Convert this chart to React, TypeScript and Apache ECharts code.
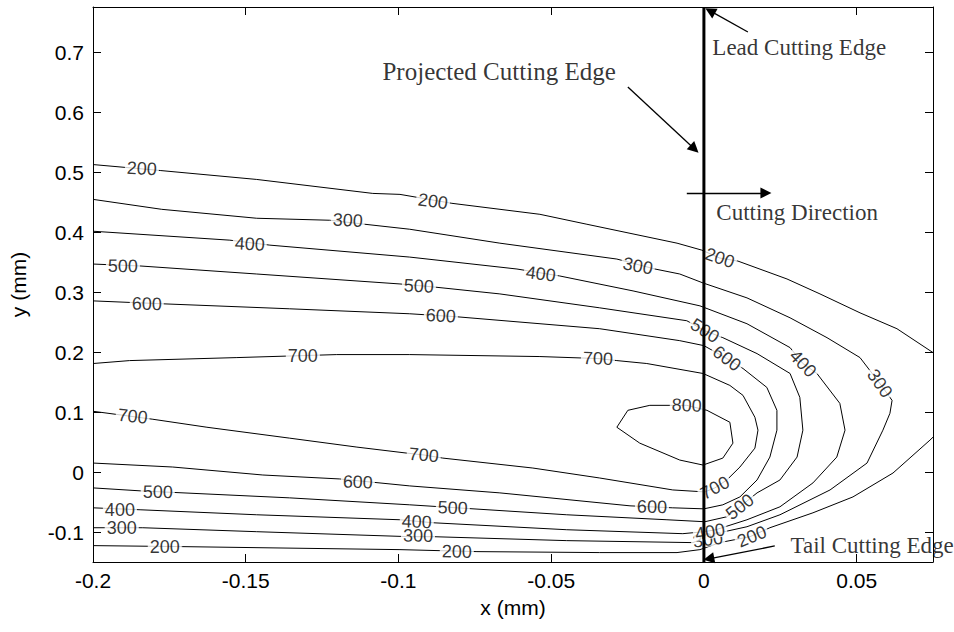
import React, { useEffect, useRef } from "react";
import * as echarts from "echarts";

// Axis extents and tick labels
const xRange = [-0.2, 0.075];
const yRange = [-0.15, 0.775];
const xTicks = [-0.2, -0.15, -0.1, -0.05, 0, 0.05];
const yTicks = [-0.1, 0, 0.1, 0.2, 0.3, 0.4, 0.5, 0.6, 0.7];

// Contour lines (x mm, y mm)
const contour200a = [
  [-0.2, 0.5124], [-0.178, 0.5025], [-0.1464, 0.4876], [-0.1084, 0.4643], [-0.0995, 0.4627],
  [-0.0825, 0.4478], [-0.0537, 0.4295], [-0.0383, 0.4129], [-0.0088, 0.3814], [-0.0007, 0.3698],
  [0.0052, 0.3566], [0.0111, 0.3516], [0.0272, 0.3217], [0.038, 0.2968], [0.0511, 0.2653],
  [0.0632, 0.2388], [0.075, 0.199],
];
const contour200b = [
  [-0.2, -0.1227], [-0.1706, -0.1244], [-0.0995, -0.1294], [-0.0743, -0.1327], [-0.0341, -0.1343],
  [-0.0088, -0.1343], [-0.0013, -0.1294], [0.0052, -0.1177], [0.0151, -0.1078], [0.0216, -0.0929],
  [0.0357, -0.068], [0.0488, -0.0415], [0.0619, -0.0017], [0.074, 0.0531], [0.075, 0.058],
];
const contour300 = [
  [-0.2, 0.4544], [-0.1775, 0.4378], [-0.1464, 0.4229], [-0.1225, 0.4196], [-0.111, 0.4129],
  [-0.0963, 0.4046], [-0.0668, 0.3814], [-0.0285, 0.3549], [-0.016, 0.3383], [-0.0079, 0.33],
  [-0.0003, 0.3151], [0.0141, 0.2902], [0.0282, 0.257], [0.0403, 0.2239], [0.0511, 0.1907],
  [0.0576, 0.1476], [0.0616, 0.1194], [0.0609, 0.0978], [0.0586, 0.0697], [0.0534, 0.0149],
  [0.0413, -0.0299], [0.0249, -0.0713], [0.0141, -0.0912], [0.0052, -0.1012], [0, -0.1095],
  [-0.0036, -0.1177], [-0.0449, -0.1144], [-0.0887, -0.1078], [-0.0963, -0.1078],
  [-0.1464, -0.0995], [-0.1837, -0.0929], [-0.2, -0.0929],
];
const contour400 = [
  [-0.2, 0.4013], [-0.1552, 0.3864], [-0.1421, 0.3781], [-0.0963, 0.3582], [-0.0612, 0.3383],
  [-0.0472, 0.3267], [-0.0232, 0.3018], [-0.0013, 0.2769], [0.0141, 0.2471], [0.0282, 0.2073],
  [0.0324, 0.1808], [0.037, 0.1642], [0.0445, 0.1144], [0.0462, 0.0697], [0.0435, 0.0249],
  [0.0357, -0.0182], [0.0249, -0.058], [0.0141, -0.0796], [0.0039, -0.0962], [0, -0.0995],
  [-0.0069, -0.1028], [-0.0449, -0.0962], [-0.0887, -0.0846], [-0.0995, -0.0796],
  [-0.1464, -0.0713], [-0.1843, -0.063], [-0.2, -0.0597],
];
const contour500 = [
  [-0.2, 0.3466], [-0.1843, 0.3433], [-0.1464, 0.33], [-0.0995, 0.3134], [-0.0887, 0.3085],
  [-0.0668, 0.2968], [-0.0341, 0.2736], [-0.0056, 0.2521], [0.0003, 0.2355], [0.0062, 0.2239],
  [0.0174, 0.1973], [0.0282, 0.1642], [0.0314, 0.1244], [0.0324, 0.0697], [0.0305, 0.0249],
  [0.0249, -0.0133], [0.0174, -0.0348], [0.0118, -0.058], [0.0075, -0.0746], [0.0003, -0.0829],
  [-0.0121, -0.0796], [-0.0449, -0.0713], [-0.0963, -0.0547], [-0.1356, -0.0431],
  [-0.1843, -0.0315], [-0.2, -0.0265],
];
const contour600 = [
  [-0.2, 0.2852], [-0.1771, 0.2803], [-0.1356, 0.272], [-0.0963, 0.2637], [-0.0809, 0.2587],
  [-0.0341, 0.2388], [-0.0079, 0.2189], [0, 0.2106], [0.0075, 0.1891], [0.0128, 0.1725],
  [0.0206, 0.141], [0.0239, 0.1028], [0.0239, 0.0697], [0.0216, 0.0249], [0.0174, -0.0133],
  [0.0118, -0.0415], [0.0062, -0.0547], [0, -0.0614], [-0.0102, -0.0597], [-0.0242, -0.0564],
  [-0.0668, -0.0348], [-0.0963, -0.0232], [-0.1192, -0.0116], [-0.1444, -0.005],
  [-0.1739, 0.0083], [-0.2, 0.0149],
];
const contour700 = [
  [-0.2, 0.1808], [-0.188, 0.1857], [-0.1529, 0.1907], [-0.1202, 0.1957], [-0.0963, 0.1957],
  [-0.0537, 0.1924], [-0.0347, 0.1891], [-0.0285, 0.1857], [-0.0187, 0.1808], [-0.0003, 0.1642],
  [0.0085, 0.1443], [0.0128, 0.1277], [0.0167, 0.0912], [0.0177, 0.0697], [0.0167, 0.0398],
  [0.0118, 0.0083], [0.0075, -0.0133], [0.0036, -0.0265], [0.0003, -0.0332], [-0.0102, -0.0299],
  [-0.0341, -0.01], [-0.056, 0.0066], [-0.0855, 0.0232], [-0.0914, 0.0282], [-0.0973, 0.0315],
  [-0.1136, 0.0415], [-0.1356, 0.0564], [-0.1627, 0.0746], [-0.1804, 0.0879], [-0.2, 0.1012],
];
const contour800 = [
  [-0.0285, 0.0746], [-0.0249, 0.1028], [-0.0177, 0.1111], [-0.0056, 0.1111], [0.001, 0.1028],
  [0.0085, 0.0829], [0.0095, 0.0481], [0.0062, 0.0232], [-0.0003, 0.0116], [-0.0079, 0.0199],
  [-0.021, 0.0481], [-0.0285, 0.0746],
];
const contours = [contour200a, contour200b, contour300, contour400, contour500, contour600, contour700, contour800];

// Inline contour labels: [x, y, text, angle]
const contourLabels: [number, number, string, number][] = [
  [-0.184, 0.5058, "200", -3], [-0.0887, 0.4511, "200", -8], [0.0052, 0.3566, "200", -19],
  [-0.1765, -0.1244, "200", 0], [-0.0809, -0.1327, "200", -1], [0.0157, -0.1078, "200", 22],
  [-0.1166, 0.4196, "300", -3], [-0.0216, 0.3433, "300", -11], [0.0576, 0.1476, "300", -55],
  [-0.1906, -0.0929, "300", 0], [-0.0936, -0.1061, "300", -1], [0.0013, -0.1128, "300", 8],
  [-0.1487, 0.3798, "400", -3], [-0.0534, 0.33, "400", -7], [0.0324, 0.1808, "400", -47],
  [-0.1912, -0.063, "400", 0], [-0.094, -0.0829, "400", -2], [0.002, -0.0995, "400", 10],
  [-0.1902, 0.3433, "500", -1], [-0.0933, 0.3101, "500", -3], [0.0003, 0.2355, "500", -32],
  [-0.1788, -0.0332, "500", -1], [-0.0822, -0.0597, "500", -2], [0.0118, -0.058, "500", 38],
  [-0.1824, 0.2803, "600", -1], [-0.0861, 0.2604, "600", -3], [0.0075, 0.1891, "600", -37],
  [-0.1133, -0.0166, "600", -2], [-0.017, -0.058, "600", -1],
  [-0.1313, 0.194, "700", 0], [-0.0347, 0.1891, "700", -2], [-0.187, 0.0929, "700", -6],
  [-0.0917, 0.0282, "700", -5], [0.0036, -0.0265, "700", 28],
  [-0.0056, 0.1111, "800", -2],
];

// Cutting edge line and annotations
const cuttingEdge = [[0, -0.15], [0, 0.775]];
const annotationTexts: [number, number, string, number][] = [
  [0.0026, 0.7067, "Lead Cutting Edge", 23],
  [-0.1054, 0.668, "Projected Cutting Edge", 25],
  [0.0039, 0.4317, "Cutting Direction", 23],
  [0.0282, -0.1217, "Tail Cutting Edge", 23],
];
const arrows = [
  [[0.0144, 0.7333], [0.00203, 0.7685]],
  [[-0.0249, 0.6417], [-0.00308, 0.5385]],
  [[-0.0056, 0.465], [0.0203, 0.465]],
  [[0.0232, -0.1233], [0.0016, -0.1447]],
];

const SANS = "'Liberation Sans', Arial, Helvetica, sans-serif";
const SERIF = "'Liberation Serif', 'Times New Roman', serif";

export default function App() {
  const ref = useRef<HTMLDivElement>(null);
  useEffect(() => {
    const chart = echarts.init(ref.current!, null, { renderer: "svg" });
    const axisCommon = {
      type: "value",
      splitLine: { show: false },
      axisLine: { show: true, onZero: false, lineStyle: { color: "#000", width: 1 } },
    };
    const lineSeries = contours.map((pts) => ({
      type: "line",
      data: pts,
      showSymbol: false,
      symbol: "none",
      silent: true,
      z: 2,
      lineStyle: { color: "#000", width: 1 },
    }));
    const option: any = {
      animation: false,
      backgroundColor: "#fff",
      grid: { left: 93, right: 21, top: 7, bottom: 70, outerBoundsMode: "none" },
      xAxis: [
        {
          ...axisCommon,
          position: "bottom",
          min: xRange[0],
          max: xRange[1],
          name: "x (mm)",
          nameLocation: "middle",
          nameGap: 35,
          nameTextStyle: { color: "#000", fontSize: 21, fontFamily: SANS },
          axisTick: { show: true, inside: true, length: 8, customValues: xTicks, lineStyle: { color: "#000" } },
          axisLabel: { show: true, customValues: xTicks, color: "#000", fontSize: 21, fontFamily: SANS, margin: 8 },
        },
        {
          ...axisCommon,
          position: "top",
          min: xRange[0],
          max: xRange[1],
          axisTick: { show: true, inside: true, length: 8, customValues: xTicks, lineStyle: { color: "#000" } },
          axisLabel: { show: false },
        },
      ],
      yAxis: [
        {
          ...axisCommon,
          position: "left",
          min: yRange[0],
          max: yRange[1],
          name: "y (mm)",
          nameLocation: "middle",
          nameGap: 64,
          nameTextStyle: { color: "#000", fontSize: 21, fontFamily: SANS },
          axisTick: { show: true, inside: true, length: 8, customValues: yTicks, lineStyle: { color: "#000" } },
          axisLabel: { show: true, customValues: yTicks, color: "#000", fontSize: 21, fontFamily: SANS, margin: 9 },
        },
        {
          ...axisCommon,
          position: "right",
          min: yRange[0],
          max: yRange[1],
          axisTick: { show: true, inside: true, length: 8, customValues: yTicks, lineStyle: { color: "#000" } },
          axisLabel: { show: false },
        },
      ],
      series: [
        ...lineSeries,
        {
          type: "scatter",
          silent: true,
          z: 3,
          symbolSize: 1,
          itemStyle: { color: "transparent" },
          data: contourLabels.map(([x, y, t, r]) => ({ value: [x, y], name: t, label: { rotate: r } })),
          label: {
            show: true,
            position: "inside",
            formatter: (p: any) => p.name,
            color: "#000",
            fontSize: 18,
            fontFamily: SANS,
            backgroundColor: "#fff",
            padding: [0, 2],
            lineHeight: 14,
          },
        },
        {
          type: "line",
          data: cuttingEdge,
          showSymbol: false,
          symbol: "none",
          silent: true,
          z: 4,
          lineStyle: { color: "#000", width: 3 },
          markLine: {
            silent: true,
            symbol: ["none", "triangle"],
            symbolSize: 11,
            label: { show: false },
            lineStyle: { color: "#000", width: 1.3, type: "solid" },
            data: arrows.map(([a, b]) => [{ coord: a }, { coord: b }]),
          },
        },
        {
          type: "scatter",
          silent: true,
          z: 5,
          symbolSize: 1,
          itemStyle: { color: "transparent" },
          data: annotationTexts.map(([x, y, t, s]) => ({ value: [x, y], name: t, label: { fontSize: s } })),
          label: {
            show: true,
            position: "right",
            distance: 0,
            formatter: (p: any) => p.name,
            color: "#000",
            fontFamily: SERIF,
          },
        },
      ],
    };
    chart.setOption(option);
    return () => chart.dispose();
  }, []);
  return <div ref={ref} style={{ position: "absolute", left: 0, top: 0, width: 954, height: 632 }} />;
}
